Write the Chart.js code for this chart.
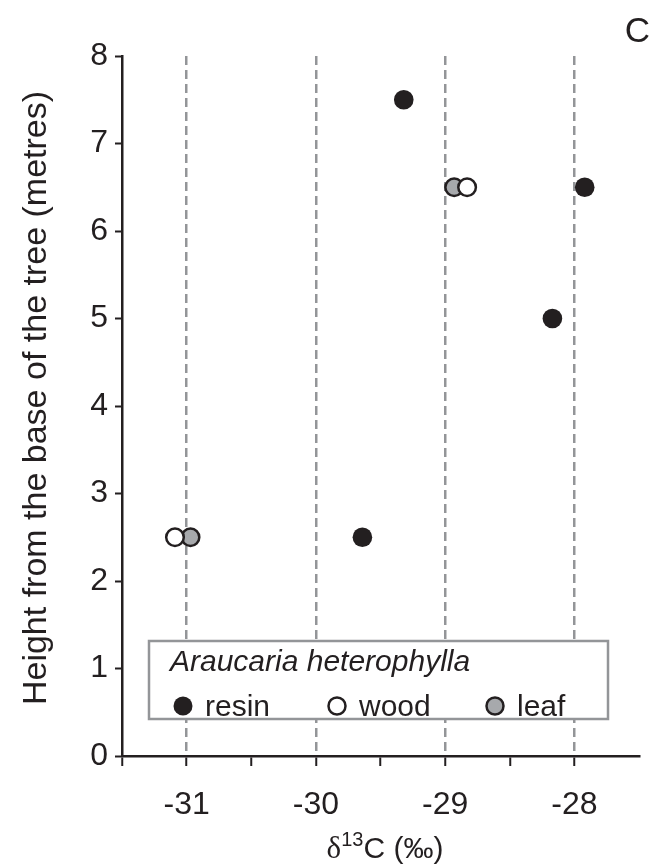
<!DOCTYPE html>
<html>
<head>
<meta charset="utf-8">
<script src="https://cdn.jsdelivr.net/npm/chart.js@4"></script>
<style>
    html, body { margin: 0; padding: 0; background: #fff; }
    #wrap { width: 653px; height: 865px; position: relative; }
</style>
</head>
<body>
<div id="wrap"><canvas id="chart"></canvas></div>
<script>
// δ13C against sampling height, Araucaria heterophylla
const RESIN_X = [-29.32, -27.92, -28.17, -29.64];
const RESIN_Y = [7.5, 6.5, 5.0, 2.5];
const WOOD_X = [-31.09, -28.83];
const WOOD_Y = [2.5, 6.5];
const LEAF_X = [-30.97, -28.93];
const LEAF_Y = [2.5, 6.5];

const X_TICKS = [-31.5, -31, -30.5, -30, -29.5, -29, -28.5, -28];
const X_LABELED = [-31, -30, -29, -28];
const Y_TICKS = [0, 1, 2, 3, 4, 5, 6, 7, 8];

const SPECIES = 'Araucaria heterophylla';
const SERIES = ['resin', 'wood', 'leaf'];
const PANEL = 'C';

const INK = '#231f20';
const GREY = '#939598';
const FILLS = { resin: INK, wood: '#ffffff', leaf: '#a7a9ac' };
const FONT = '"Liberation Sans", Arial, sans-serif';

const toPoints = (xs, ys) => xs.map((x, i) => ({ x, y: ys[i] }));

function dataset(name, xs, ys) {
    return {
        label: name,
        data: toPoints(xs, ys),
        backgroundColor: FILLS[name],
        borderColor: INK,
        borderWidth: name === 'resin' ? 0 : 2.5,
        pointRadius: name === 'resin' ? 9.8 : 8.8,
        pointHoverRadius: name === 'resin' ? 9.8 : 8.8,
    };
}

function drawMarker(ctx, name, x, y) {
    ctx.beginPath();
    ctx.arc(x, y, name === 'resin' ? 9.5 : 8.5, 0, Math.PI * 2);
    ctx.fillStyle = FILLS[name];
    ctx.fill();
    if (name !== 'resin') {
        ctx.lineWidth = 2.5;
        ctx.strokeStyle = INK;
        ctx.stroke();
    }
}

// axis titles, panel letter and the boxed legend
const decorations = {
    id: 'decorations',
    afterDraw(chart) {
        const { ctx, chartArea } = chart;
        ctx.save();
        ctx.fillStyle = INK;

        // y title
        ctx.save();
        ctx.translate(37, (chartArea.top + chartArea.bottom) / 2 - 8);
        ctx.rotate(-Math.PI / 2);
        ctx.font = `34px ${FONT}`;
        ctx.textAlign = 'center';
        ctx.textBaseline = 'middle';
        ctx.fillText('Height from the base of the tree (metres)', 0, 0);
        ctx.restore();

        // x title: δ13C (‰)
        const base = 858;
        ctx.textBaseline = 'alphabetic';
        ctx.textAlign = 'left';
        const parts = [
            { t: 'δ', font: `31px "Liberation Serif", serif`, dy: 0 },
            { t: '13', font: `20px ${FONT}`, dy: -12 },
            { t: 'C (‰)', font: `30px ${FONT}`, dy: 0 },
        ];
        let total = 0;
        parts.forEach(p => { ctx.font = p.font; p.w = ctx.measureText(p.t).width; total += p.w; });
        let x = 385 - total / 2;
        parts.forEach(p => { ctx.font = p.font; ctx.fillText(p.t, x, base + p.dy); x += p.w; });

        // panel letter
        ctx.font = `35px ${FONT}`;
        ctx.textAlign = 'right';
        ctx.fillText(PANEL, 650, 42);

        // legend box
        const bx = 149, by = 641, bw = 459, bh = 78;
        ctx.fillStyle = '#ffffff';
        ctx.fillRect(bx, by, bw, bh);
        ctx.lineWidth = 2.5;
        ctx.strokeStyle = GREY;
        ctx.strokeRect(bx, by, bw, bh);

        ctx.fillStyle = INK;
        ctx.textAlign = 'left';
        ctx.font = `italic 30px ${FONT}`;
        ctx.fillText(SPECIES, 170, 671);

        const slots = [183, 337, 495];
        ctx.font = `30px ${FONT}`;
        SERIES.forEach((name, i) => {
            drawMarker(ctx, name, slots[i], 706);
            ctx.fillStyle = INK;
            ctx.fillText(name, slots[i] + 22, 716);
        });
        ctx.restore();
    },
};

const chart = new Chart(document.querySelector('#chart'), {
    type: 'scatter',
    data: {
        datasets: [
            dataset('resin', RESIN_X, RESIN_Y),
            dataset('wood', WOOD_X, WOOD_Y),
            dataset('leaf', LEAF_X, LEAF_Y),
        ],
    },
    options: {
        responsive: true,
        maintainAspectRatio: false,
        animation: false,
        layout: { padding: { top: 56, right: 14, left: 0, bottom: 0 } },
        plugins: { legend: { display: false }, tooltip: { enabled: false } },
        scales: {
            x: {
                type: 'linear',
                min: -31.5,
                max: -27.5,
                afterBuildTicks: s => { s.ticks = X_TICKS.map(v => ({ value: v })); },
                afterFit: s => { s.height = 109; },
                ticks: {
                    color: INK,
                    font: { family: FONT, size: 32 },
                    padding: 20,
                    maxRotation: 0,
                    autoSkip: false,
                    callback: v => (X_LABELED.includes(v) ? String(v) : ''),
                },
                grid: {
                    drawOnChartArea: true,
                    color: c => (c.tick && X_LABELED.includes(c.tick.value) ? GREY : 'rgba(0,0,0,0)'),
                    lineWidth: 2.5,
                    tickColor: INK,
                    tickLength: 10,
                    tickWidth: 2,
                    tickBorderDash: [],
                },
                border: { display: true, color: INK, width: 2.5, dash: [9, 5] },
            },
            y: {
                type: 'linear',
                min: 0,
                max: 8,
                afterBuildTicks: s => { s.ticks = Y_TICKS.map(v => ({ value: v })); },
                afterFit: s => { s.width = 122; },
                ticks: {
                    color: INK,
                    font: { family: FONT, size: 32 },
                    padding: 7,
                },
                grid: {
                    drawOnChartArea: false,
                    tickColor: INK,
                    tickLength: 7,
                    tickWidth: 2,
                },
                border: { display: true, color: INK, width: 2.5 },
            },
        },
    },
    plugins: [decorations],
});
</script>
</body>
</html>
